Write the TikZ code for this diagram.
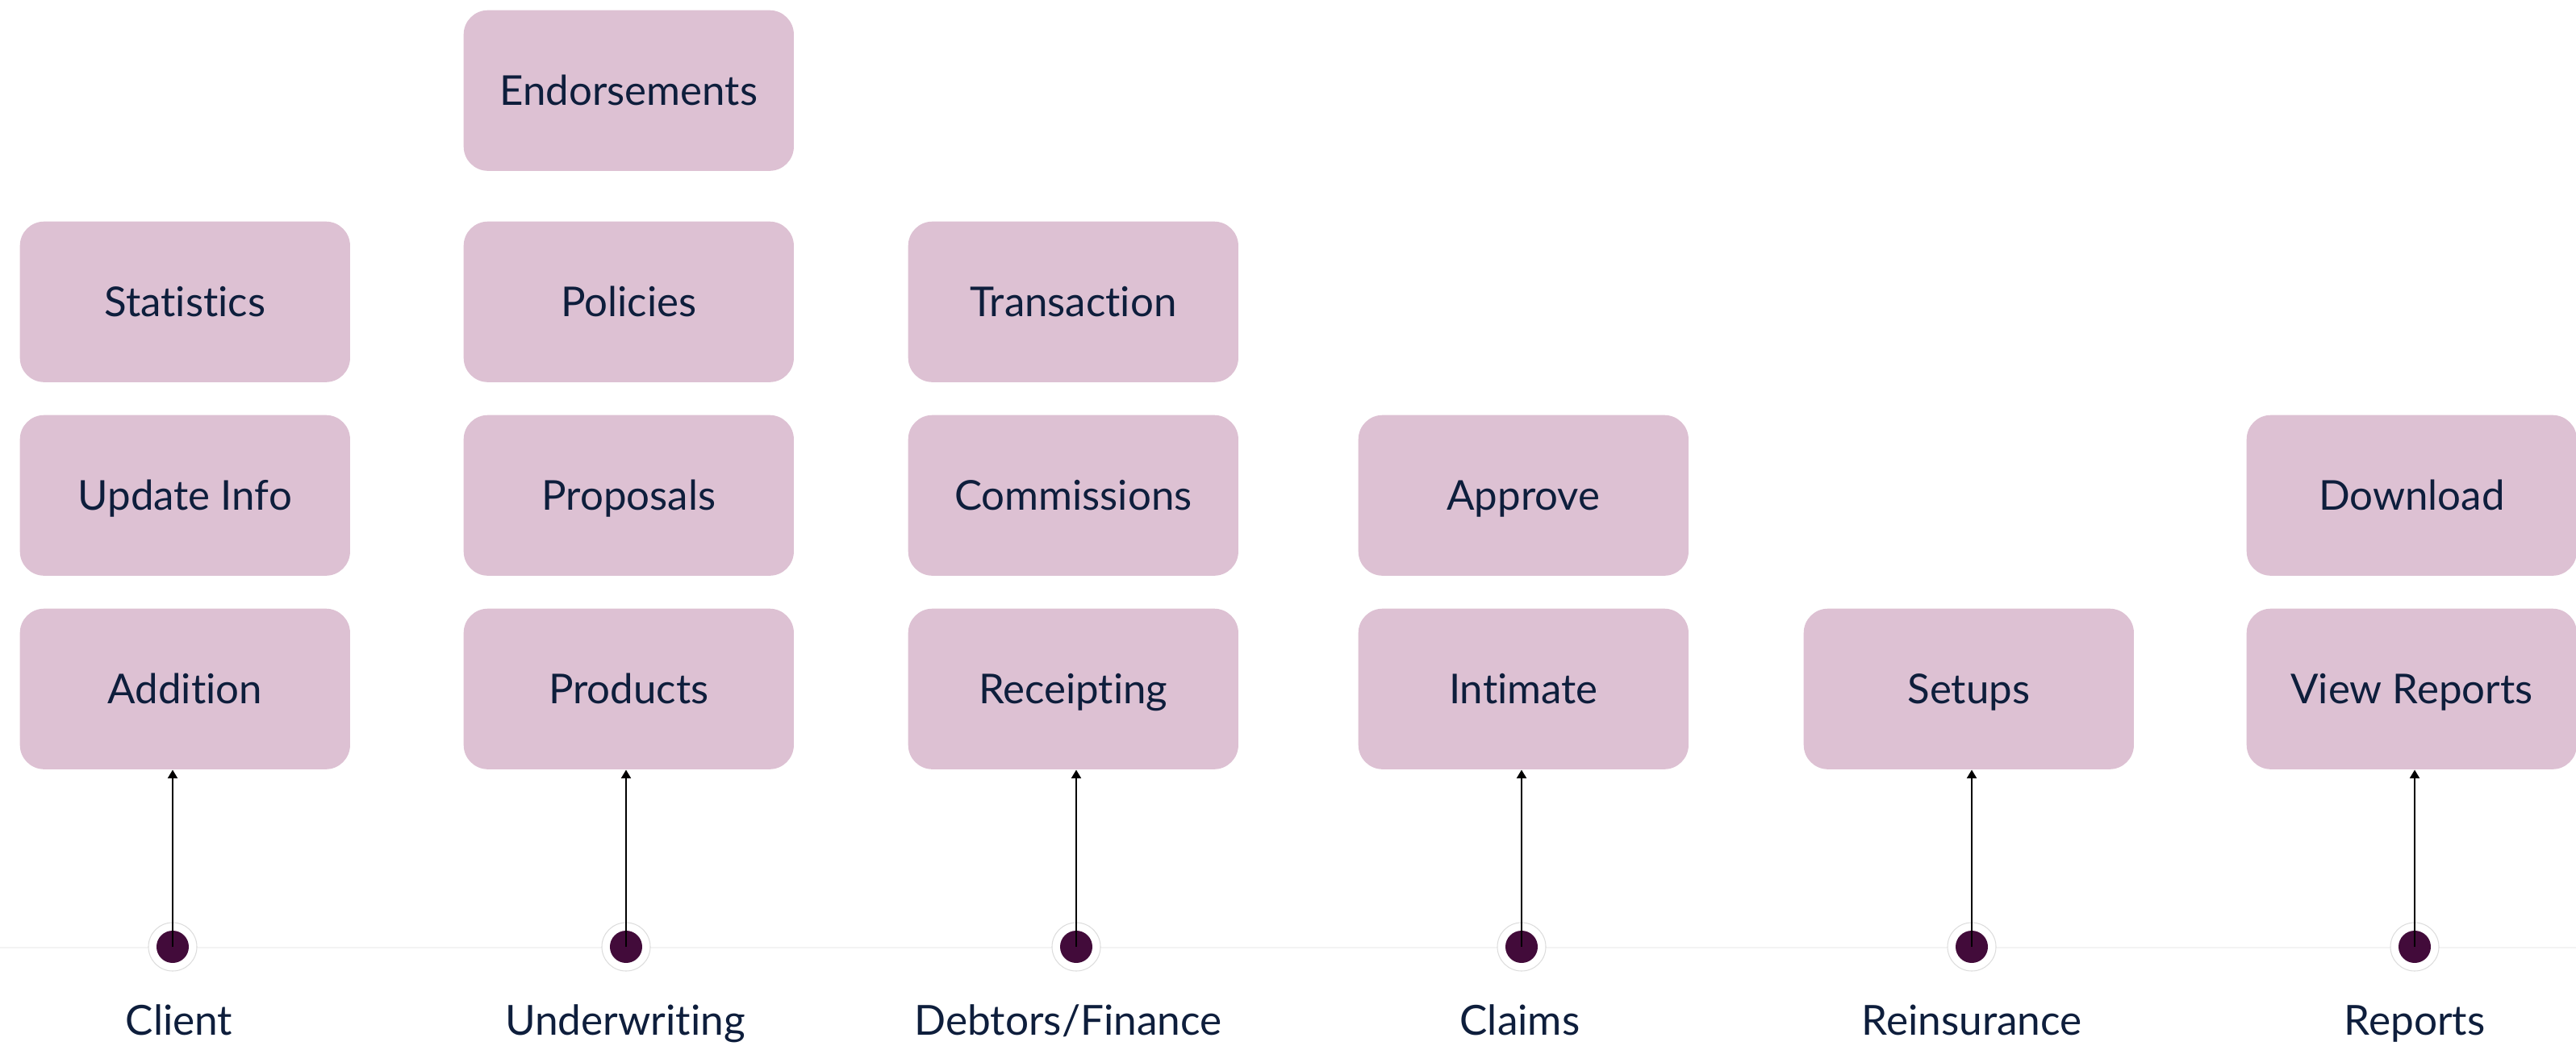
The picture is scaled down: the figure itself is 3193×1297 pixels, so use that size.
\documentclass[tikz,border=0pt]{standalone}
\usepackage{fontspec}
\setmainfont{Lato}[Ligatures={NoCommon,NoContextual}]
\usetikzlibrary{arrows.meta}
\definecolor{boxfill}{HTML}{DDC1D3}
\definecolor{txt}{HTML}{0E1E3C}
\definecolor{dotc}{HTML}{420B3A}
\definecolor{ringc}{HTML}{DDDDDD}
\definecolor{basec}{HTML}{F3F3F3}
\tikzset{
  modbox/.style={fill=boxfill, draw=none, rounded corners=0.3cm, minimum width=4.09cm, minimum height=1.99cm, inner sep=0pt,
    text=txt, font=\fontsize{14.5pt}{17pt}\selectfont, text height=0.36cm, text depth=0pt, anchor=north west},
  ring/.style={circle, fill=white, draw=ringc, line width=0.3pt, minimum size=0.6cm, inner sep=0pt},
  dotn/.style={circle, fill=dotc, draw=none, minimum size=0.4cm, inner sep=0pt},
  lab/.style={text=txt, font=\fontsize{14.6pt}{17pt}\selectfont, anchor=base, inner sep=0pt},
  arr/.style={draw=black, line width=0.6pt, -{Triangle[length=3pt,width=3.4pt]}},
}
\begin{document}
\begin{tikzpicture}[x=0.01cm,y=-0.01cm]
\useasboundingbox (0,0) rectangle (3193,1297);
% baseline
\draw[basec, line width=0.6pt] (0,1175) -- (3193,1175);
% boxes
\node[modbox] (a1) at (24,754) {Addition};
\node[modbox] (a2) at (24,514) {Update Info};
\node[modbox] (a3) at (24,274) {Statistics};
\node[modbox] (b1) at (574,754) {Products};
\node[modbox] (b2) at (574,514) {Proposals};
\node[modbox] (b3) at (574,274) {Policies};
\node[modbox] (b4) at (574,12) {Endorsements};
\node[modbox] (c1) at (1125,754) {Receipting};
\node[modbox] (c2) at (1125,514) {Commissions};
\node[modbox] (c3) at (1125,274) {Transaction};
\node[modbox] (d1) at (1683,754) {Intimate};
\node[modbox] (d2) at (1683,514) {Approve};
\node[modbox] (e1) at (2235,754) {Setups};
\node[modbox] (f1) at (2784,754) {View Reports};
\node[modbox] (f2) at (2784,514) {Download};
% dots
\foreach \n/\x in {p1/214, p2/776, p3/1334, p4/1886, p5/2444, p6/2993}{
  \node[ring] (r\n) at (\x,1174) {};
  \node[dotn] (\n) at (\x,1174) {};
}
% arrows
\draw[arr] (p1.center) -- (p1.center |- a1.south);
\draw[arr] (p2.center) -- (p2.center |- b1.south);
\draw[arr] (p3.center) -- (p3.center |- c1.south);
\draw[arr] (p4.center) -- (p4.center |- d1.south);
\draw[arr] (p5.center) -- (p5.center |- e1.south);
\draw[arr] (p6.center) -- (p6.center |- f1.south);
% labels
\node[lab] (l1) at (222,1283) {Client};
\node[lab] (l2) at (775,1283) {Underwriting};
\node[lab] (l3) at (1324,1283) {Debtors/Finance};
\node[lab] (l4) at (1884,1283) {Claims};
\node[lab] (l5) at (2444,1283) {Reinsurance};
\node[lab] (l6) at (2993,1283) {Reports};
\end{tikzpicture}
\end{document}
